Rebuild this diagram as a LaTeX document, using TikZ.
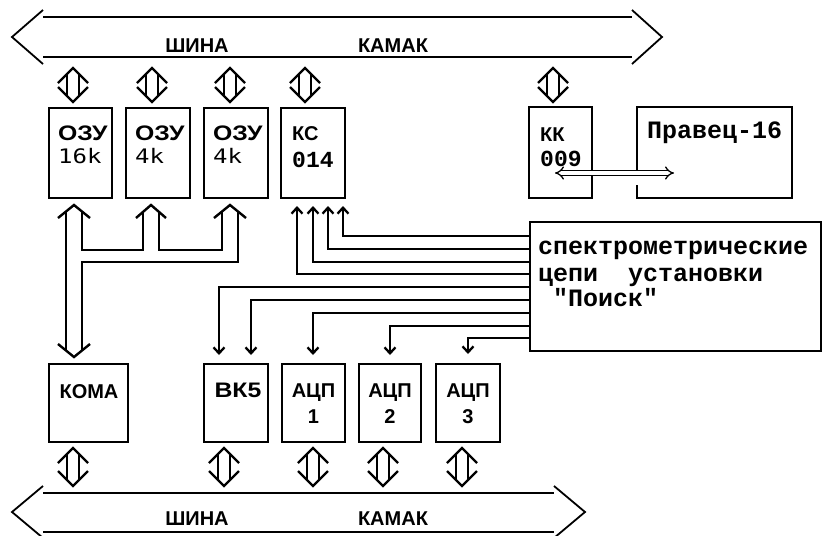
\documentclass[tikz,border=0pt]{standalone}
\usepackage{fontspec}
\setmainfont{Liberation Sans}
\newfontfamily\lblfont{Liberation Sans}
\newfontfamily\lblwide[FakeStretch=1.18]{Liberation Sans}
\newfontfamily\monofont{Liberation Mono}
\newfontfamily\lightfont[FakeStretch=1.2]{DejaVu Sans Mono}
\usetikzlibrary{arrows.meta}
\newcommand\updown[3]{%
  \draw[dblarr] (#1-15,#2+15) -- (#1,#2) -- (#1+15,#2+15);
  \draw[dblarr] (#1-15,#3-15) -- (#1,#3) -- (#1+15,#3-15);
  \draw[dblarr] (#1-6,#2+6) -- (#1-6,#3-6) (#1+6,#2+6) -- (#1+6,#3-6);}
\begin{document}
\begin{tikzpicture}[x=1pt,y=-1pt,
  box/.style={draw, line width=2.6pt, inner sep=0pt, outer sep=0pt, rectangle},
  busline/.style={line width=2.3pt},
  bushead/.style={line width=1.8pt},
  dblarr/.style={line width=2.4pt},
  hollow/.style={line width=2.4pt},
  sig/.style={line width=2.3pt, -{Straight Barb[length=6pt,width=11pt]}},
  busfont/.style={inner sep=0pt, anchor=base, font=\lblfont\bfseries\fontsize{20}{20}\selectfont},
  lbl/.style={inner sep=0pt, anchor=base west, font=\lblfont\bfseries\fontsize{20}{20}\selectfont},
  lblw/.style={inner sep=0pt, anchor=base west, font=\lblwide\bfseries\fontsize{21}{21}\selectfont},
  lblc/.style={inner sep=0pt, anchor=base, font=\lblfont\bfseries\fontsize{20}{20}\selectfont},
  light/.style={inner sep=0pt, anchor=base west, font=\lightfont\fontsize{20}{20}\selectfont},
  mono/.style={inner sep=0pt, anchor=base west, font=\monofont\bfseries\fontsize{25}{25}\selectfont},
  monos/.style={inner sep=0pt, anchor=base west, font=\monofont\bfseries\fontsize{23}{23}\selectfont}]
\useasboundingbox[fill=white] (0,0) rectangle (823,536);

% top bus
\draw[busline] (43,17) -- (632,17) (43,57) -- (632,57);
\draw[bushead] (43,10) -- (12,37) -- (43,64);
\draw[bushead] (632,10) -- (662,37) -- (632,64);
\node[busfont] (tbus1) at (197,52) {ШИНА};
\node[busfont] (tbus2) at (393,52) {КАМАК};

% bottom bus
\draw[busline] (43,493) -- (554,493) (43,532) -- (554,532);
\draw[bushead] (43,486) -- (12,512) -- (43,538);
\draw[bushead] (554,486) -- (585,512) -- (554,538);
\node[busfont] (bbus1) at (197,525) {ШИНА};
\node[busfont] (bbus2) at (393,525) {КАМАК};

% boxes top
\node[box, minimum width=63pt, minimum height=90pt] (ozu1) at (80.5,153) {};
\node[box, minimum width=64pt, minimum height=90pt] (ozu2) at (158,153) {};
\node[box, minimum width=64pt, minimum height=90pt] (ozu3) at (236,153) {};
\node[box, minimum width=64pt, minimum height=90pt] (ks) at (313,153) {};
\node[box, minimum width=63pt, minimum height=91pt] (kk) at (560.5,152.5) {};
\node[box, draw=none, minimum width=155pt, minimum height=91pt] (pravec) at (714.5,152.5) {};
\draw[line width=2.6pt] (637,174) -- (637,107) -- (792,107) -- (792,198) -- (637,198) -- (637,185);
\node[box, minimum width=291pt, minimum height=129pt] (spec) at (675.5,286.5) {};

% boxes bottom
\node[box, minimum width=79pt, minimum height=78pt] (koma) at (88.5,403) {};
\node[box, minimum width=64pt, minimum height=78pt] (vk5) at (236,403) {};
\node[box, minimum width=63pt, minimum height=78pt] (adc1) at (313.5,403) {};
\node[box, minimum width=62pt, minimum height=78pt] (adc2) at (390,403) {};
\node[box, minimum width=64pt, minimum height=78pt] (adc3) at (468,403) {};

% labels
\node[lblw] (t1) at (58,140) {ОЗУ};
\node[light] (t1b) at (58,163) {16k};
\node[lblw] (t2) at (135,140) {ОЗУ};
\node[light] (t2b) at (135,163) {4k};
\node[lblw] (t3) at (213,140) {ОЗУ};
\node[light] (t3b) at (213,163) {4k};
\node[lbl] (t4) at (292,140) {КС};
\node[monos] (t4b) at (292,167) {014};
\node[lbl] (t5) at (540,141) {КК};
\node[monos] (t5b) at (540,166) {009};
\node[mono] (t6) at (647,138) {Правец-16};
\node[mono] (s1) at (538,254) {спектрометрические};
\node[mono] (s2) at (538,281) {цепи\ \ установки};
\node[mono] (s3) at (538,306) {\ "Поиск"};
\node[lblc] (k1) at (89,398) {КОМА};
\node[lblw, anchor=base] (v1) at (238,397) {ВК5};
\node[lblc] (a1) at (313.5,397) {АЦП};
\node[lblc] (a1b) at (313.5,423) {1};
\node[lblc] (a2) at (390,397) {АЦП};
\node[lblc] (a2b) at (390,423) {2};
\node[lblc] (a3) at (468,397) {АЦП};
\node[lblc] (a3b) at (468,423) {3};

% small bidirectional arrows
\updown{73}{68}{102}
\updown{152}{68}{102}
\updown{230}{68}{102}
\updown{305}{68}{102}
\updown{553}{68}{102}
\updown{73}{448}{486}
\updown{224}{448}{486}
\updown{313}{448}{486}
\updown{383}{448}{486}
\updown{462}{448}{486}

% KK <-> Pravec
\draw[line width=1.3pt, double=white, double distance=3.2pt, {Implies}-{Implies}] (555,173) -- (674,173);

% hollow memory bus
\draw[hollow] (58,218) -- (74,205) -- (90,218);
\draw[hollow] (58,344) -- (74,357) -- (90,344);
\draw[hollow] (66,211) -- (66,351);
\draw[hollow] (82,211) -- (82,250) -- (143,250) -- (143,212);
\draw[hollow] (82,351) -- (82,262) -- (238,262) -- (238,212);
\draw[hollow] (159,212) -- (159,250) -- (222,250) -- (222,212);
\draw[hollow] (136,218) -- (151,205) -- (166,218);
\draw[hollow] (214,218) -- (230,205) -- (246,218);

% signal lines
\draw[sig] (spec.west |- 0,236) -| (343,206);
\draw[sig] (spec.west |- 0,249) -| (328,206);
\draw[sig] (spec.west |- 0,262) -| (313,206);
\draw[sig] (spec.west |- 0,274) -| (297,206);
\draw[sig] (spec.west |- 0,287) -| (219,355);
\draw[sig] (spec.west |- 0,300) -| (251,355);
\draw[sig] (spec.west |- 0,313) -| (313,355);
\draw[sig] (spec.west |- 0,326) -| (390,355);
\draw[sig] (spec.west |- 0,338) -| (468,354);
\end{tikzpicture}
\end{document}
